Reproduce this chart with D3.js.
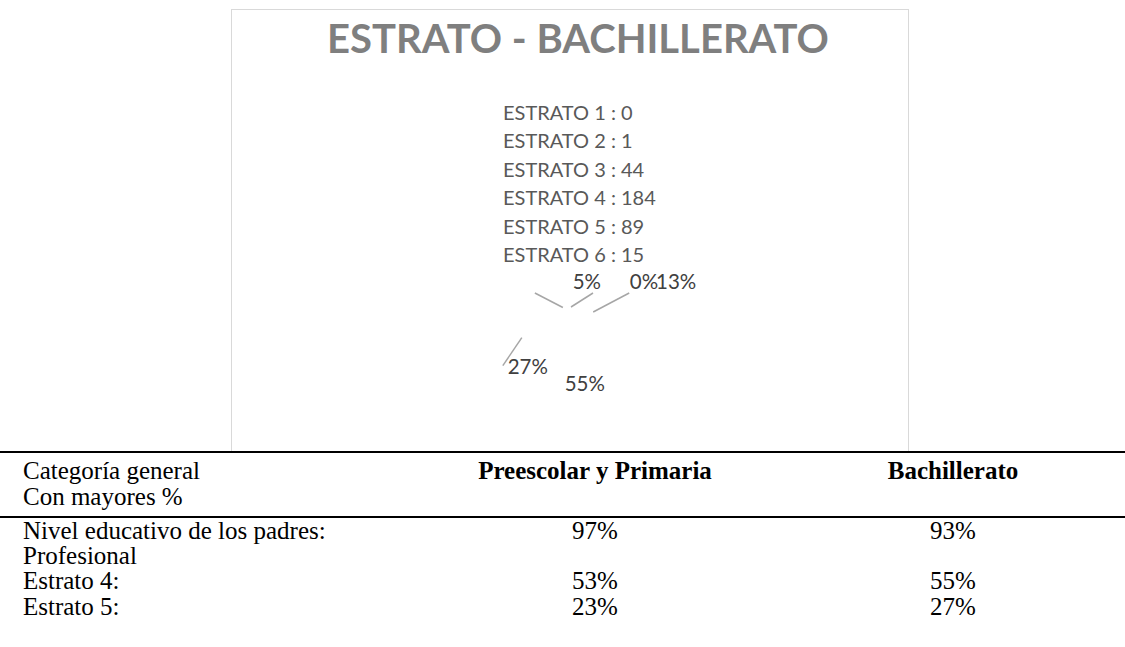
<!DOCTYPE html>
<html><head><meta charset="utf-8">
<script src="https://cdn.jsdelivr.net/npm/d3@7/dist/d3.min.js"></script>
<style>html,body{margin:0;padding:0;background:#fff;}svg{display:block;}</style>
</head><body>
<svg id="c" width="1125" height="647"></svg>
<script>
// ---- data ----
const chartTitle = "ESTRATO - BACHILLERATO";
const categories = ["ESTRATO 1", "ESTRATO 2", "ESTRATO 3", "ESTRATO 4", "ESTRATO 5", "ESTRATO 6"];
const values = [0, 1, 44, 184, 89, 15];
const tableHeader = ["Categoría general", "Preescolar y Primaria", "Bachillerato"];
const tableSubHeader = "Con mayores %";
const rowLabels = [["Nivel educativo de los padres:", "Profesional"], ["Estrato 4:"], ["Estrato 5:"]];
const preescolarPrimaria = ["97%", "53%", "23%"];
const bachilleratoPct = ["93%", "55%", "27%"];

// ---- layout ----
const svg = d3.select("#c");
const W = 1125, H = 647;
const box = {x: 231.5, y: 9.5, w: 677, h: 442};
const pieC = {x: 570.5, y: 361}, R = 54;
// manual label placement (offsets from the slice edge point), like the original's dragged labels
const labelLayout = [
  {label: [73.5, -26], line: null},
  {label: [73, -26], line: [22, -14]},
  {label: [83, -31], line: [36, -19]},
  {inside: true},
  {label: [6, 29], line: [-19, 28]},
  {label: [24, -26.5], line: [-28, -14.5]}
];
const sans = "Lato, 'Open Sans', sans-serif";
const serif = "'Liberation Serif', 'Times New Roman', serif";

svg.append("rect").attr("x", box.x).attr("y", box.y).attr("width", box.w).attr("height", box.h)
  .attr("fill", "#fff").attr("stroke", "#d9d9d9").attr("stroke-width", 1);

svg.append("text").attr("x", 578).attr("y", 53).attr("text-anchor", "middle")
  .attr("font-family", sans).attr("font-weight", 700).attr("font-size", 40)
  .attr("fill", "#7f7f7f").text(chartTitle);

// category list
const listY = d3.scalePoint().domain(categories).range([120, 262]);
svg.append("g").selectAll("text").data(categories).join("text")
  .attr("x", 503).attr("y", d => listY(d))
  .attr("font-family", sans).attr("font-size", 20).attr("fill", "#595959")
  .text((d, i) => `${d} : ${values[i]}`);

// pie (slices are white in the original, only labels/leader lines show)
const pie = d3.pie().sort(null).value(d => d)(values);
const arc = d3.arc().innerRadius(0).outerRadius(R);
const edge = d3.arc().innerRadius(R).outerRadius(R);
const total = d3.sum(values);
const fmt = d3.format(".0%");
const g = svg.append("g").attr("transform", `translate(${pieC.x},${pieC.y})`);
g.selectAll("path").data(pie).join("path").attr("d", arc).attr("fill", "#fff").attr("stroke", "none");

pie.forEach((p, i) => {
  if (p.value === 0) return;
  const L = labelLayout[i];
  const txt = fmt(p.value / total);
  let lx, ly;
  if (L.inside) {
    [lx, ly] = arc.centroid(p);
  } else {
    const e = edge.centroid(p);
    if (L.line) {
      g.append("line").attr("x1", e[0]).attr("y1", e[1])
        .attr("x2", e[0] + L.line[0]).attr("y2", e[1] + L.line[1])
        .attr("stroke", "#a6a6a6").attr("stroke-width", 1.5);
    }
    lx = e[0] + L.label[0]; ly = e[1] + L.label[1];
  }
  g.append("text").attr("x", lx).attr("y", ly + 7.5).attr("text-anchor", "middle")
    .attr("font-family", sans).attr("font-size", 20.5).attr("fill", "#404040").text(txt);
});

// table
svg.append("line").attr("x1", 0).attr("x2", W).attr("y1", 452).attr("y2", 452).attr("stroke", "#000").attr("stroke-width", 2);
svg.append("line").attr("x1", 0).attr("x2", W).attr("y1", 517).attr("y2", 517).attr("stroke", "#000").attr("stroke-width", 2);
const colX = [23, 595, 953];
const fs = 25;
svg.append("text").attr("x", colX[0]).attr("y", 479).attr("font-family", serif).attr("font-size", fs).text(tableHeader[0]);
svg.append("text").attr("x", colX[0]).attr("y", 505).attr("font-family", serif).attr("font-size", fs).text(tableSubHeader);
[1, 2].forEach(c => svg.append("text").attr("x", colX[c]).attr("y", 479).attr("text-anchor", "middle")
  .attr("font-family", serif).attr("font-weight", 700).attr("font-size", fs).text(tableHeader[c]));
const rowY = [[539, 564], [589], [615]];
rowLabels.forEach((lines, r) => {
  lines.forEach((t, k) => svg.append("text").attr("x", colX[0]).attr("y", rowY[r][k])
    .attr("font-family", serif).attr("font-size", fs).text(t));
  svg.append("text").attr("x", colX[1]).attr("y", rowY[r][0]).attr("text-anchor", "middle")
    .attr("font-family", serif).attr("font-size", fs).text(preescolarPrimaria[r]);
  svg.append("text").attr("x", colX[2]).attr("y", rowY[r][0]).attr("text-anchor", "middle")
    .attr("font-family", serif).attr("font-size", fs).text(bachilleratoPct[r]);
});
</script>
</body></html>
